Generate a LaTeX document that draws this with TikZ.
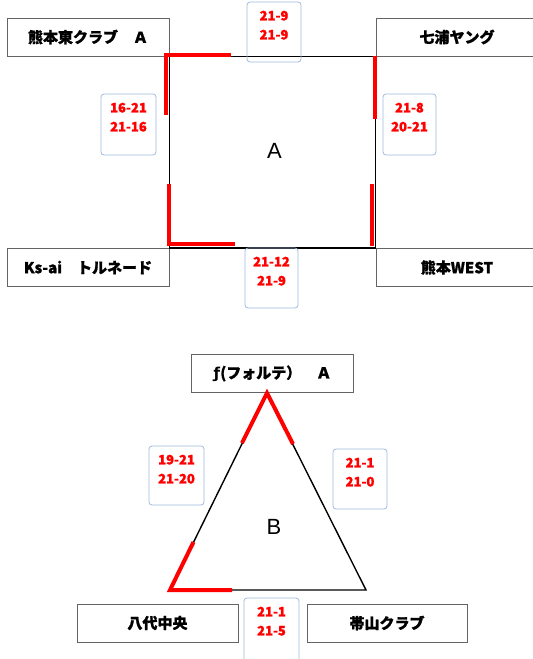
\documentclass[tikz,border=0pt]{standalone}
\usepackage{fontspec}
\setmainfont{Liberation Sans}
\newfontfamily\jp{Noto Sans CJK JP}[BoldFeatures={FakeBold=1.2}]
\newfontfamily\dv{DejaVu Sans}
\definecolor{teamgray}{RGB}{100,100,100}
\definecolor{frameblue}{RGB}{160,185,222}
\definecolor{scorered}{RGB}{255,0,0}
\begin{document}
\begin{tikzpicture}[x=1pt,y=-1pt,
  team/.style={draw=teamgray, line width=1pt, minimum width=162pt, minimum height=38pt, inner sep=0pt, font=\jp\bfseries\fontsize{15}{18}\selectfont},
  scorebox/.style={draw=frameblue, line width=0.8pt, rounded corners=3pt, inner sep=0pt},
  score/.style={text=scorered, font=\jp\bfseries\fontsize{13}{19}\selectfont, align=center, anchor=north, inner sep=0pt},
  edge/.style={line width=1.4pt},
  win/.style={draw=scorered, line width=4pt},
  pool/.style={font=\fontsize{22}{26}\selectfont, inner sep=0pt}]
\useasboundingbox (0,0) rectangle (533,659);
\clip (0,0) rectangle (533,659);
% ---------- Pool A ----------
\node[team] (kh) at (88,37) {熊本東クラブ　Ａ};
\node[team] (ny) at (457,37) {七浦ヤング};
\node[team] (ks) at (88,267.5) {Ks-ai　トルネード};
\node[team] (kw) at (457,267.5) {熊本WEST};
\draw[edge] (kh.south east) -- (ny.south west) -- (kw.north west) -- (ks.north east) -- cycle;
\draw[win] (166,115) -- (166,55) -- (231,55);
\draw[win] (375,56) -- (375,119);
\draw[win] (168.5,184) -- (168.5,243.5) -- (235,243.5);
\draw[win] (372,184) -- (372,246);
\node[pool] (la) at (274.5,151) {A};
\node[scorebox, minimum width=54pt, minimum height=60pt] (sT) at (274,32) {};
\node[score] (sTt) at ([yshift=-9pt]sT.north) {21-9\\21-9};
\node[scorebox, minimum width=55pt, minimum height=61pt] (sL) at (128.5,124.5) {};
\node[score] (sLt) at ([yshift=-9pt]sL.north) {16-21\\21-16};
\node[scorebox, minimum width=53pt, minimum height=61pt] (sR) at (409.5,124.5) {};
\node[score] (sRt) at ([yshift=-9pt]sR.north) {21-8\\20-21};
\node[scorebox, minimum width=53pt, minimum height=60pt] (sB) at (271.5,278) {};
\node[score] (sBt) at ([yshift=-9pt]sB.north) {21-12\\21-9};
% ---------- Pool B ----------
\node[team] (fo) at (272.5,373.5) {{\dv\bfseries ƒ}(フォルテ）　Ａ};
\node[team, minimum width=161pt] (yc) at (157.5,623) {八代中央};
\node[team, minimum width=160pt] (ob) at (387,623) {帯山クラブ};
\coordinate (apex) at (267,393);
\coordinate (bl) at (170,590);
\coordinate (br) at (366,590);
\draw[edge] (apex) -- (bl) -- (br) -- cycle;
\draw[win] (242,443) -- (apex) -- (293,444);
\draw[win] (193.5,542) -- (bl) -- (232,590);
\node[pool] (lb) at (274,526.5) {B};
\node[scorebox, minimum width=55pt, minimum height=59pt] (tL) at (176.5,475.5) {};
\node[score] (tLt) at ([yshift=-9pt]tL.north) {19-21\\21-20};
\node[scorebox, minimum width=54pt, minimum height=60pt] (tR) at (360,479) {};
\node[score] (tRt) at ([yshift=-9pt]tR.north) {21-1\\21-0};
\node[scorebox, minimum width=55pt, minimum height=70pt] (tB) at (271.5,633) {};
\node[score] (tBt) at ([yshift=-9pt]tB.north) {21-1\\21-5};
\end{tikzpicture}
\end{document}
